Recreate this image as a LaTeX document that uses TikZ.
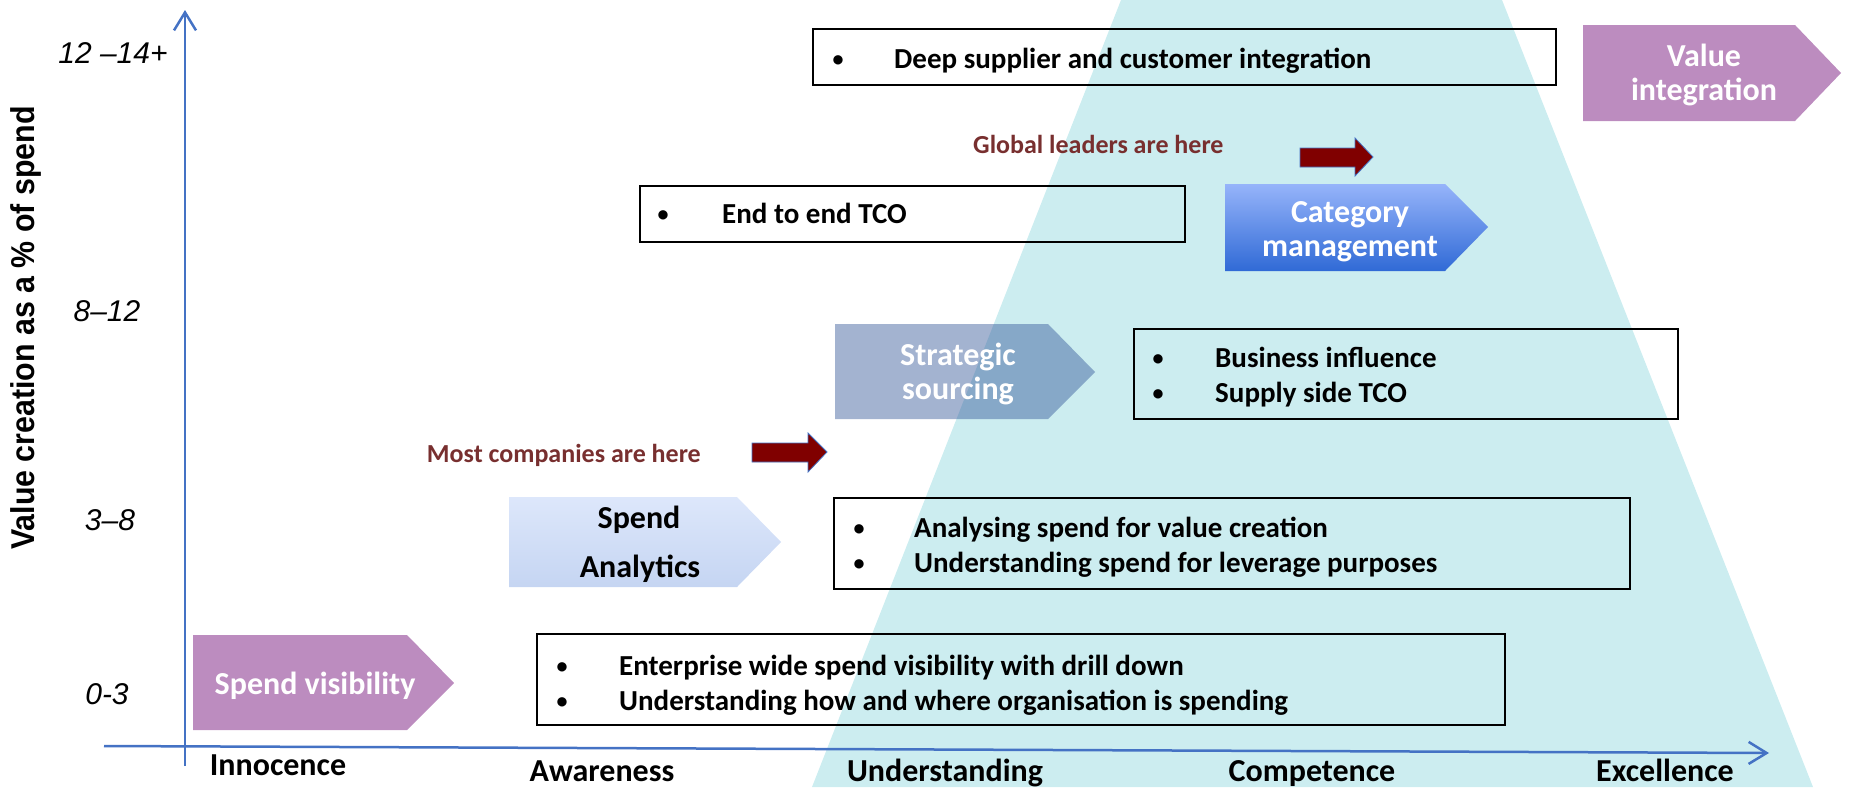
\documentclass[tikz,border=0pt]{standalone}
\usepackage{fontspec}
\usepackage{graphicx}
\setmainfont{Carlito}
\newfontfamily\arialf{Liberation Sans}
\usetikzlibrary{arrows.meta}
\definecolor{trap}{RGB}{204,237,240}
\definecolor{axisblue}{RGB}{68,114,196}
\definecolor{purp}{RGB}{188,140,191}
\definecolor{darkred}{RGB}{128,0,0}
\definecolor{redtxt}{RGB}{120,47,47}
\definecolor{stratc}{RGB}{45,81,149}
\definecolor{saTop}{RGB}{221,231,251}
\definecolor{saBot}{RGB}{197,213,242}
\definecolor{cmTop}{RGB}{150,180,250}
\definecolor{cmBot}{RGB}{48,106,214}
\begin{document}
\begin{tikzpicture}[x=1pt,y=-1pt,
  box/.style={draw=black,line width=2pt},
  bul/.style={anchor=base,inner sep=0pt,font=\bfseries\fontsize{22}{26}\selectfont},
  btxt/.style={anchor=base west,inner sep=0pt,font=\bfseries\fontsize{29}{34}\selectfont},
  chevtxt/.style={anchor=base,inner sep=0pt,text=white,font=\bfseries\fontsize{32}{36}\selectfont},
  xlab/.style={anchor=base,inner sep=0pt,font=\bfseries\fontsize{32}{36}\selectfont},
  ylab/.style={inner sep=0pt,font=\arialf\itshape\fontsize{30}{30}\selectfont},
  redtext/.style={inner sep=0pt,text=redtxt,font=\bfseries\fontsize{26}{30}\selectfont},
  redarrow/.style={fill=darkred,draw=axisblue,line width=0.8pt},
  axisline/.style={draw=axisblue,line width=2.5pt,-{Straight Barb[length=18pt,width=22pt,line width=2.5pt]}}
]
\useasboundingbox (0,0) rectangle (1849,787);
% background trapezoid
\fill[trap] (1121,0) -- (1502,0) -- (1813,787) -- (812,787) -- cycle;

% axes
\coordinate (yb) at (185,766);
\coordinate (yt) at (185,10);
\coordinate (xl) at (104,746);
\coordinate (xr) at (1769,753);
\draw[axisline] (yb) -- (yt);
\draw[axisline] (xl) -- (xr);

% y axis title and labels
\node[rotate=90,inner sep=0pt,font=\arialf\bfseries\fontsize{33}{33}\selectfont] (ytitle) at (26,328) {\scalebox{0.92}[1]{Value creation as a \% of spend}};
\node[ylab] (y4) at (113,53) {12 –14+};
\node[ylab] (y3) at (107,311) {8–12};
\node[ylab] (y2) at (110,520) {3–8};
\node[ylab] (y1) at (107,694) {0-3};

% x labels
\node[xlab] (x1) at (278,775) {Innocence};
\node[xlab] (x2) at (602,781) {Awareness};
\node[xlab] (x3) at (945,781) {Understanding};
\node[xlab] (x4) at (1312,781) {Competence};
\node[xlab] (x5) at (1665,781) {Excellence};

% boxes
\draw[box] (813,29) rectangle (1556,85);
\node[bul] (b1a) at (838,66) {•};
\node[btxt] (t1a) at (894,68) {Deep supplier and customer integration};

\draw[box] (640,186) rectangle (1185,242);
\node[bul] (b2a) at (663,221) {•};
\node[btxt] (t2a) at (722,223) {End to end TCO};

\draw[box] (1134,329) rectangle (1678,419);
\node[bul] (b3a) at (1158,365) {•};
\node[btxt] (t3a) at (1215,367) {Business influence};
\node[bul] (b3b) at (1158,400) {•};
\node[btxt] (t3b) at (1215,402) {Supply side TCO};

\draw[box] (834,498) rectangle (1630,589);
\node[bul] (b4a) at (859,535) {•};
\node[btxt] (t4a) at (914,537) {Analysing spend for value creation};
\node[bul] (b4b) at (859,570) {•};
\node[btxt] (t4b) at (914,572) {Understanding spend for leverage purposes};

\draw[box] (537,634) rectangle (1505,725);
\node[bul] (b5a) at (562,673) {•};
\node[btxt] (t5a) at (619,675) {Enterprise wide spend visibility with drill down};
\node[bul] (b5b) at (562,708) {•};
\node[btxt] (t5b) at (619,710) {Understanding how and where organisation is spending};

% chevrons
\fill[purp] (1583,25) -- (1795,25) -- (1841,73) -- (1795,121) -- (1583,121) -- cycle;
\node[chevtxt] (c5a) at (1704,66) {Value};
\node[chevtxt] (c5b) at (1704,100) {integration};

\shade[top color=cmTop,bottom color=cmBot] (1225,184) -- (1445,184) -- (1488,227) -- (1445,271) -- (1225,271) -- cycle;
\node[chevtxt] (c4a) at (1350,222) {Category};
\node[chevtxt] (c4b) at (1350,256) {management};

\fill[stratc,fill opacity=0.44] (835,324) -- (1048,324) -- (1095,372) -- (1048,419) -- (835,419) -- cycle;
\node[chevtxt] (c3a) at (958,365) {Strategic};
\node[chevtxt] (c3b) at (958,399) {sourcing};

\shade[top color=saTop,bottom color=saBot] (509,497) -- (737,497) -- (781,542) -- (737,587) -- (509,587) -- cycle;
\node[chevtxt,text=black] (c2a) at (639,528) {Spend};
\node[chevtxt,text=black] (c2b) at (640,577) {Analytics};

\fill[purp] (193,635) -- (407,635) -- (454,683) -- (407,730) -- (193,730) -- cycle;
\node[chevtxt] (c1) at (315,694) {Spend visibility};

% red labels and arrows
\node[redtext,anchor=base east] (most) at (701,462) {Most companies are here};
\draw[redarrow] (752,443) -- (808,443) -- (808,433) -- (827,452) -- (808,472) -- (808,462) -- (752,462) -- cycle;
\node[redtext,anchor=base west] (glob) at (973,153) {Global leaders are here};
\draw[redarrow] (1300,148) -- (1355,148) -- (1355,138) -- (1373,157) -- (1355,176) -- (1355,167) -- (1300,167) -- cycle;
\end{tikzpicture}
\end{document}
